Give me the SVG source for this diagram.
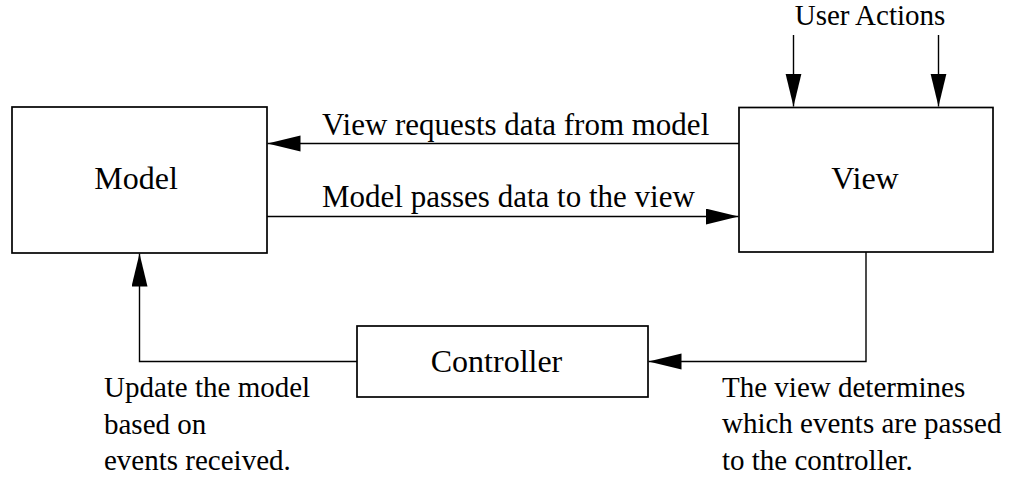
<svg xmlns="http://www.w3.org/2000/svg" width="1011" height="481" viewBox="0 0 1011 481">
<style>
.box{fill:#fff;stroke:#000;stroke-width:1.7}
.ln{fill:none;stroke:#000;stroke-width:1.4}
.big{font-family:"Liberation Serif","Times New Roman",serif;font-size:32px;fill:#000}
.sm{font-family:"Liberation Serif","Times New Roman",serif;font-size:29px;fill:#000}
.lbl{font-family:"Liberation Serif","Times New Roman",serif;font-size:31px;fill:#000}
</style>
<defs>
<marker id="ah" markerUnits="userSpaceOnUse" markerWidth="34" markerHeight="17" refX="33" refY="8" orient="auto" viewBox="0 0 34 17">
<path d="M0,0 L33,8 L0,16 z" fill="#000"/>
</marker>
</defs>
<rect width="1011" height="481" fill="#fff"/>
<g id="connectors">
<line class="ln" x1="739" y1="143.5" x2="267.5" y2="143.5" marker-end="url(#ah)"/>
<line class="ln" x1="267" y1="216.5" x2="738.5" y2="216.5" marker-end="url(#ah)"/>
<line class="ln" x1="793.5" y1="35" x2="793.5" y2="106.5" marker-end="url(#ah)"/>
<line class="ln" x1="938.5" y1="35" x2="938.5" y2="106.5" marker-end="url(#ah)"/>
<polyline class="ln" points="357,361.5 139.5,361.5 139.5,253.5" marker-end="url(#ah)"/>
<polyline class="ln" points="866,252 866,361.5 648.5,361.5" marker-end="url(#ah)"/>
<text class="lbl" x="322" y="134.5">View requests data from model</text>
<text class="lbl" x="322" y="206.5">Model passes data to the view</text>
<text class="sm" x="870" y="25" text-anchor="middle">User Actions</text>
<text class="sm" x="104"><tspan x="104" y="397">Update the model</tspan><tspan x="104" y="434">based on</tspan><tspan x="104" y="470">events received.</tspan></text>
<text class="sm" x="722"><tspan x="722" y="397">The view determines</tspan><tspan x="722" y="433">which events are passed</tspan><tspan x="722" y="470">to the controller.</tspan></text>
</g>
<g id="model">
<rect class="box" x="12" y="107" width="255" height="146"/>
<text class="big" x="136" y="189" text-anchor="middle">Model</text>
</g>
<g id="view">
<rect class="box" x="739" y="107.5" width="254" height="144.5"/>
<text class="big" x="865" y="188.5" text-anchor="middle">View</text>
</g>
<g id="controller">
<rect class="box" x="357" y="326" width="291" height="71"/>
<text class="big" x="496.5" y="372" text-anchor="middle">Controller</text>
</g>
</svg>
